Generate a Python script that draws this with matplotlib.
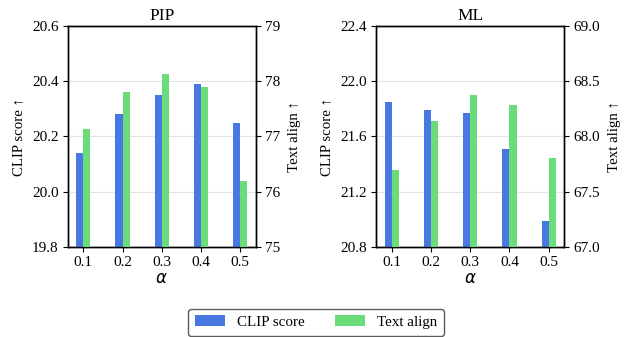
import matplotlib
matplotlib.use("Agg")
import matplotlib.pyplot as plt
import numpy as np

plt.rcParams['font.family'] = ['Liberation Serif', 'DejaVu Serif']
plt.rcParams['mathtext.fontset'] = 'dejavusans'
plt.rcParams['font.size'] = 11

alphas = ['0.1', '0.2', '0.3', '0.4', '0.5']

pip_clip = [20.14, 20.28, 20.35, 20.39, 20.25]
pip_text = [77.14, 77.81, 78.13, 77.89, 76.20]
ml_clip = [21.85, 21.79, 21.77, 21.51, 20.99]
ml_text = [67.70, 68.14, 68.37, 68.28, 67.81]

titles = ['PIP', 'ML']
clip_ylims = [(19.8, 20.6), (20.8, 22.4)]
clip_ticks = [[19.8, 20.0, 20.2, 20.4, 20.6], [20.8, 21.2, 21.6, 22.0, 22.4]]
clip_fmt = ['{:.1f}', '{:.1f}']
text_ylims = [(75, 79), (67.0, 69.0)]
text_ticks = [[75, 76, 77, 78, 79], [67.0, 67.5, 68.0, 68.5, 69.0]]
text_fmt = ['{:.0f}', '{:.1f}']

blue = '#4a78e3'
green = '#6adc7a'

fig = plt.figure(figsize=(6.27, 3.37), dpi=100)
positions = [[0.108, 0.266, 0.300, 0.658], [0.600, 0.266, 0.300, 0.658]]
data = [(pip_clip, pip_text), (ml_clip, ml_text)]

x = np.arange(len(alphas))
w = 0.18
handles = None
for i in range(2):
    ax = fig.add_axes(positions[i])
    ax2 = ax.twinx()
    clip, text = data[i]
    b1 = ax.bar(x - w / 2, clip, width=w, color=blue, label='CLIP score', zorder=3)
    b2 = ax2.bar(x + w / 2, text, width=w, color=green, label='Text align', zorder=3)
    ax.set_ylim(*clip_ylims[i])
    ax.set_yticks(clip_ticks[i])
    ax.set_yticklabels([clip_fmt[i].format(v) for v in clip_ticks[i]])
    ax2.set_ylim(*text_ylims[i])
    ax2.set_yticks(text_ticks[i])
    ax2.set_yticklabels([text_fmt[i].format(v) for v in text_ticks[i]])
    ax.set_xticks(x)
    ax.set_xticklabels(alphas)
    ax.yaxis.grid(True, color='#e3e3e3', linewidth=0.8, zorder=0)
    ax.set_axisbelow(True)
    ax.set_title(titles[i], fontsize=12.5, pad=4)
    ax.set_xlabel(r'$\alpha$', fontsize=12, labelpad=1)
    ax.set_ylabel('CLIP score ↑', fontsize=10.7, labelpad=5)
    ax2.set_ylabel('Text align ↑', fontsize=10.7, labelpad=6)
    for a in (ax, ax2):
        for s in a.spines.values():
            s.set_linewidth(1.0)
            s.set_color('black')
        a.tick_params(labelsize=11, width=0.8, length=3.5, pad=3)
    handles = [b1, b2]

leg = fig.legend(handles, ['CLIP score', 'Text align'], loc='lower center',
                 bbox_to_anchor=(0.504, 0.0), ncol=2, fontsize=10.8,
                 frameon=True, fancybox=True, edgecolor='#333333',
                 handlelength=2.0, columnspacing=2.0, borderpad=0.45,
                 handletextpad=0.8, borderaxespad=0.1)
leg.get_frame().set_linewidth(1.0)

fig.savefig('out.png', dpi=100)
